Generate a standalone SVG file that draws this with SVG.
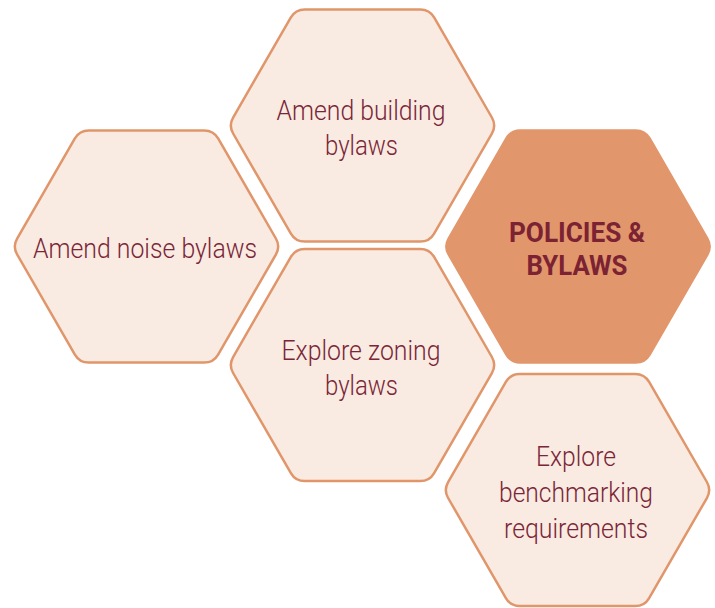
<svg xmlns="http://www.w3.org/2000/svg" xmlns:xlink="http://www.w3.org/1999/xlink" width="715" height="608" viewBox="0 0 715 608">
<style>
.hex{fill:#F9EBE1;stroke:#E0966A;stroke-width:2.5}
.hexc{fill:#E2966B;stroke:#E2966B;stroke-width:2.5}
.t{font-family:Roboto,"Liberation Sans",sans-serif;font-size:27px;font-weight:300;fill:#7B2638;text-anchor:middle}
.tb{font-family:Roboto,"Liberation Sans",sans-serif;font-size:27px;font-weight:700;fill:#7B2233;text-anchor:middle}
</style>
<defs>
<path id="h" d="M -57.76,-116.05 L 57.76,-116.05 A 16 16 0 0 1 71.62,-108.05 L 129.38,-8 A 16 16 0 0 1 129.38,8 L 71.62,108.05 A 16 16 0 0 1 57.76,116.05 L -57.76,116.05 A 16 16 0 0 1 -71.62,108.05 L -129.38,8 A 16 16 0 0 1 -129.38,-8 L -71.62,-108.05 A 16 16 0 0 1 -57.76,-116.05 Z"/>
</defs>
<g id="connectors"/>
<g id="node-building">
<use xlink:href="#h" class="hex" transform="translate(362.5,125.5)"/>
<text class="t" x="361" y="120" textLength="169" lengthAdjust="spacingAndGlyphs">Amend building</text>
<text class="t" x="361.5" y="155" textLength="73" lengthAdjust="spacingAndGlyphs">bylaws</text>
</g>
<g id="node-noise">
<use xlink:href="#h" class="hex" transform="translate(146.5,246.5)"/>
<text class="t" x="145" y="258" textLength="224" lengthAdjust="spacingAndGlyphs">Amend noise bylaws</text>
</g>
<g id="node-policies">
<use xlink:href="#h" class="hexc" transform="translate(578,246.5)"/>
<text class="tb" x="577" y="242" textLength="136" lengthAdjust="spacingAndGlyphs">POLICIES &amp;</text>
<text class="tb" x="577" y="275" textLength="101" lengthAdjust="spacingAndGlyphs">BYLAWS</text>
</g>
<g id="node-zoning">
<use xlink:href="#h" class="hex" transform="translate(362.5,365)"/>
<text class="t" x="361" y="360" textLength="159" lengthAdjust="spacingAndGlyphs">Explore zoning</text>
<text class="t" x="361.5" y="395" textLength="73" lengthAdjust="spacingAndGlyphs">bylaws</text>
</g>
<g id="node-benchmarking">
<use xlink:href="#h" class="hex" transform="translate(577.5,490)"/>
<text class="t" x="576" y="466" textLength="80" lengthAdjust="spacingAndGlyphs">Explore</text>
<text class="t" x="576" y="502" textLength="154" lengthAdjust="spacingAndGlyphs">benchmarking</text>
<text class="t" x="576" y="538" textLength="144" lengthAdjust="spacingAndGlyphs">requirements</text>
</g>
</svg>
